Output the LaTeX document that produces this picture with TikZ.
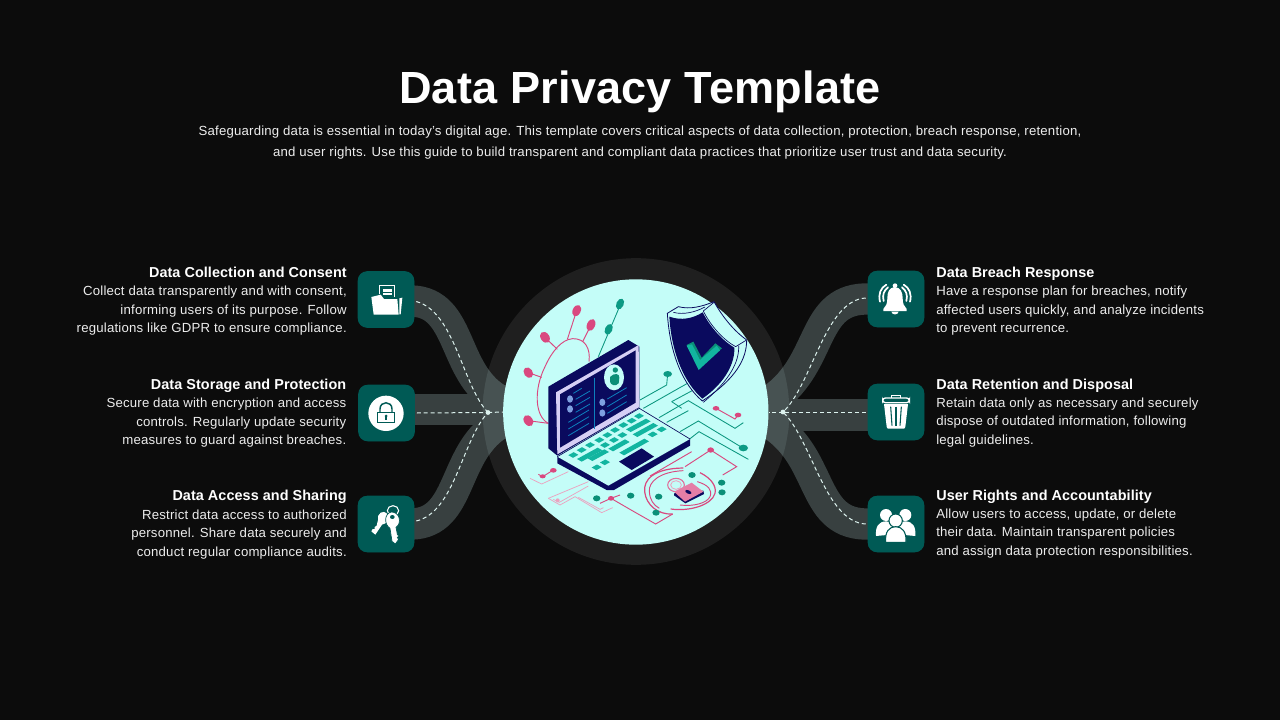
\documentclass[tikz,border=0pt]{standalone}
\usepackage{fontspec}
\setmainfont{Liberation Sans}[LetterSpace=1.5,BoldFeatures={LetterSpace=0.5}]
\newfontfamily\titlefont{Liberation Sans}[LetterSpace=0.5]
\usetikzlibrary{calc}
\definecolor{bgc}{HTML}{0C0C0C}
\definecolor{ringc}{HTML}{1F1F1F}
\definecolor{discc}{HTML}{C4FDF8}
\definecolor{bandc}{HTML}{384040}
\definecolor{bandl}{HTML}{475252}
\definecolor{boxc}{HTML}{005A55}
\definecolor{dashc}{HTML}{DDF3EF}
\definecolor{navyc}{HTML}{0A0A5E}
\definecolor{lavc}{HTML}{D6CFF5}
\definecolor{tealc}{HTML}{12B5A0}
\definecolor{gtealc}{HTML}{0A8F78}
\definecolor{pinkc}{HTML}{D9487F}
\definecolor{lpinkc}{HTML}{EBA3C0}
\definecolor{textc}{HTML}{EDEDED}
\definecolor{blobc}{HTML}{7E9FE0}
\tikzset{
 iconbox/.style={fill=boxc,rounded corners=7pt,minimum width=42pt,minimum height=42pt,inner sep=0pt},
 band/.style={line width=23.5pt,line cap=butt},
 flow/.style={draw=dashc,line width=.75pt,dash pattern=on 3pt off 2.2pt},
 hubdot/.style={circle,fill=dashc,inner sep=0pt,minimum size=3.6pt},
 headl/.style={font=\fontsize{10.8}{13}\selectfont\bfseries,text=white,inner sep=0pt,anchor=base east},
 headr/.style={font=\fontsize{10.8}{13}\selectfont\bfseries,text=white,inner sep=0pt,anchor=base west},
 bodyl/.style={font=\fontsize{9.9}{13.9}\selectfont,text=textc,inner sep=0pt,anchor=north east,align=right},
 bodyr/.style={font=\fontsize{9.9}{13.9}\selectfont,text=textc,inner sep=0pt,anchor=north west,align=left},
 wire/.style={draw=gtealc!80!tealc,line width=.65pt},
 pwire/.style={draw=pinkc,line width=.7pt},
 lwire/.style={draw=lpinkc,line width=.55pt},
 scr/.style={draw=tealc!70!blue,line width=.6pt},
}
\newcommand{\lk}[4]{\fill[tealc] (#1-7,#2-4) -- (#1+7,#2+4) -- (#3+7,#4+4) -- (#3-7,#4-4) -- cycle;}
\newcommand{\skey}[2]{\lk{#1-8}{#2+4.5}{#1+8}{#2-4.5}}
\begin{document}
\begin{tikzpicture}[x=.75pt,y=-.75pt]
\useasboundingbox (0,0) rectangle (1280,720);
\fill[bgc] (0,0) rectangle (1280,720);

% title
\node[font=\titlefont\fontsize{33.8}{40}\selectfont\bfseries,text=white,inner sep=0pt,anchor=base] (title) at (640,104) {Data Privacy Template};
\node[font=\fontsize{9.9}{15.75}\selectfont,text=textc,inner sep=0pt,anchor=north,align=center] (subtitle) at (640,125.2)
 {Safeguarding data is essential in today's digital age. This template covers critical aspects of data collection, protection, breach response, retention,\\and user rights. Use this guide to build transparent and compliant data practices that prioritize user trust and data security.};

% ring
\node[circle,fill=ringc,minimum size=230pt,inner sep=0pt] (ring) at (636,411.5) {};

% boxes
\node[iconbox] (box1) at (386,299.5) {};
\node[iconbox] (box2) at (386.5,413) {};
\node[iconbox] (box3) at (386,524) {};
\node[iconbox] (box4) at (896,299) {};
\node[iconbox] (box5) at (896,412) {};
\node[iconbox] (box6) at (896,524) {};
\coordinate (hubL) at (488,412.5);
\coordinate (hubR) at (783,412);
\coordinate (endL) at (530,412);
\coordinate (endR) at (742,412);

% bands
\newcommand{\bandset}{%
 \draw[band] ($(box1.east)+(-2,1.5)$) .. controls (462,303) and (452,372) .. (497,399) -- (endL);
 \draw[band] ($(box3.east)+(-2,0)$) .. controls (462,522) and (452,455) .. (497,425) -- (endL);
 \draw[band] ($(box2.east)+(-2,-3.5)$) -- (500,409.5);
 \draw[band] ($(box4.west)+(2,0)$) .. controls (810,297) and (825,362) .. (773,399) -- (endR);
 \draw[band] ($(box6.west)+(2,0)$) .. controls (810,526) and (825,460) .. (773,425) -- (endR);
 \draw[band] ($(box5.west)+(2,3)$) -- (770,415);
}
\begin{scope}[draw=bandc]\bandset\end{scope}
\begin{scope}
 \clip (636,411.5) circle[radius=115pt];
 \begin{scope}[draw=bandl]\bandset\end{scope}
\end{scope}

% boxes on top of bands
\fill[boxc,rounded corners=7pt] (box1.south west) rectangle (box1.north east);
\fill[boxc,rounded corners=7pt] (box2.south west) rectangle (box2.north east);
\fill[boxc,rounded corners=7pt] (box3.south west) rectangle (box3.north east);
\fill[boxc,rounded corners=7pt] (box4.south west) rectangle (box4.north east);
\fill[boxc,rounded corners=7pt] (box5.south west) rectangle (box5.north east);
\fill[boxc,rounded corners=7pt] (box6.south west) rectangle (box6.north east);

% disc
\node[circle,fill=discc,minimum size=199pt,inner sep=0pt] (disc) at (635.8,412) {};

% connectors
\draw[flow] ($(box1.east)+(2,2)$) .. controls (455,312) and (462,385) .. (hubL);
\draw[flow] ($(box2.east)+(2,0)$) -- (hubL);
\draw[flow] ($(box3.east)+(2,-3)$) .. controls (455,512) and (462,440) .. (hubL);
\draw[flow] ($(box4.west)+(-2,-1)$) .. controls (825,300) and (812,385) .. (hubR);
\draw[flow] ($(box5.west)+(-2,0)$) -- (hubR);
\draw[flow] ($(box6.west)+(-2,0)$) .. controls (825,522) and (812,440) .. (hubR);
\draw[flow] (hubL) -- (disc.west);
\draw[flow] (hubR) -- (disc.east);
\node[hubdot] (hubLd) at (hubL) {};
\node[hubdot] (hubRd) at (hubR) {};

% left text
\node[headl] (h1) at (347,277) {Data Collection and Consent};
\node[bodyl] (b1) at (347,285.7) {Collect data transparently and with consent,\\informing users of its purpose. Follow\\regulations like GDPR to ensure compliance.};
\node[headl] (h2) at (346.5,389) {Data Storage and Protection};
\node[bodyl] (b2) at (346.5,397.7) {Secure data with encryption and access\\controls. Regularly update security\\measures to guard against breaches.};
\node[headl] (h3) at (347,500) {Data Access and Sharing};
\node[bodyl] (b3) at (347,509.2) {Restrict data access to authorized\\personnel. Share data securely and\\conduct regular compliance audits.};
% right text
\node[headr] (h4) at (936,277) {Data Breach Response};
\node[bodyr] (b4) at (936,285.8) {Have a response plan for breaches, notify\\affected users quickly, and analyze incidents\\to prevent recurrence.};
\node[headr] (h5) at (936,389) {Data Retention and Disposal};
\node[bodyr] (b5) at (936,397.6) {Retain data only as necessary and securely\\dispose of outdated information, following\\legal guidelines.};
\node[headr] (h6) at (936,500) {User Rights and Accountability};
\node[bodyr] (b6) at (936,508.3) {Allow users to access, update, or delete\\their data. Maintain transparent policies\\and assign data protection responsibilities.};

% ---------- illustration (units: 1/3 px, origin 480,250)
\begin{scope}[shift={(480,250)},x=.25pt,y=-.25pt]
 % virus outline
 \draw[pwire] (205,520) .. controls (165,500) and (160,420) .. (195,350) .. controls (215,305) and (245,268) .. (278,266) .. controls (315,265) and (332,295) .. (327,335);
 \draw[pwire] (290,182) -- (262,268); \draw[pwire] (333,225) -- (308,275);
 \draw[pwire] (195,262) -- (232,298); \draw[pwire] (145,368) -- (185,382); \draw[pwire] (145,512) -- (205,520);
 \fill[pinkc,rotate around={65:(290,182)}] (290,182) ellipse[x radius=18,y radius=12];
 \fill[pinkc,rotate around={65:(333,225)}] (333,225) ellipse[x radius=19,y radius=12];
 \fill[pinkc,rotate around={-55:(195,262)}] (195,262) ellipse[x radius=18,y radius=13];
 \fill[pinkc,rotate around={-55:(145,368)}] (145,368) ellipse[x radius=17,y radius=13];
 \fill[pinkc,rotate around={-55:(145,512)}] (145,512) ellipse[x radius=18,y radius=13];
 % teal sprig
 \draw[wire] (422,162) -- (355,320);
 \fill[gtealc!70!tealc,rotate around={65:(420,162)}] (420,162) ellipse[x radius=17,y radius=11];
 \fill[gtealc!70!tealc,rotate around={65:(386,238)}] (386,238) ellipse[x radius=17,y radius=11];
 % teal circuit
 \draw[wire] (480,450) -- (560,405) -- (563,372);
 \fill[gtealc!70!tealc] (563,372) ellipse[x radius=13,y radius=9];
 \draw[wire] (490,475) -- (640,390);
 \draw[wire] (575,455) -- (640,420);
 \draw[wire] (575,455) -- (605,475);
 \draw[wire] (537,503) -- (625,452) -- (765,535) -- (790,518);
 \draw[wire] (560,517) -- (625,482);
 \draw[wire] (600,545) -- (655,513) -- (790,595);
 \draw[wire] (625,570) -- (657,545) -- (805,628);
 \fill[gtealc!70!tealc] (790,594) ellipse[x radius=14,y radius=10];
 % pink top right
 \draw[pwire] (708,475) -- (765,507) -- (775,495);
 \fill[pinkc] (708,475) ellipse[x radius=10,y radius=7];
 \fill[pinkc] (774,495) ellipse[x radius=10,y radius=7];
 % shield (zoom-6 coords + 480,135)
 \begin{scope}[shift={(480,135)}]
  \fill[discc] (82,55) -- (115,35) .. controls (150,44) and (185,35) .. (222,20) .. controls (250,70) and (285,110) .. (320,135) .. controls (320,190) and (290,250) .. (187,318) .. controls (130,270) and (90,180) .. (82,55) -- cycle;
  \draw[navyc,line width=.6pt] (82,55) -- (115,35) .. controls (150,44) and (185,35) .. (222,20) .. controls (250,70) and (285,110) .. (320,135) .. controls (320,190) and (290,250) .. (187,318) .. controls (130,270) and (90,180) .. (82,55) -- cycle;
  \draw[navyc,line width=.5pt] (190,48) -- (222,22) (287,155) -- (318,136) (190,48) .. controls (210,90) and (250,135) .. (287,155);
  \fill[navyc] (88,65) .. controls (125,78) and (160,70) .. (188,52) .. controls (210,95) and (245,135) .. (283,158) .. controls (285,200) and (260,260) .. (187,311) .. controls (135,265) and (95,180) .. (88,65) -- cycle;
  \draw[navyc,line width=.5pt] (100,52) .. controls (130,60) and (165,52) .. (195,36);
  \draw[navyc,line width=.5pt] (296,152) .. controls (298,200) and (270,255) .. (190,322);
  \fill[gtealc] (140,150) -- (160,140) -- (185,188) -- (226,145) -- (246,160) -- (182,210) -- cycle;
  \fill[tealc] (140,152) -- (156,148) -- (180,195) -- (230,152) -- (240,166) -- (176,225) -- cycle;
 \end{scope}
 % laptop (zoom-5 coords + 180,255)
 \begin{scope}[shift={(180,255)}]
  \fill[navyc] (25,155) -- (265,15) -- (298,35) -- (298,218) -- (52,362) -- (25,340) -- cycle;
  \fill[lavc] (48,172) -- (296,30) -- (298,216) -- (52,358) -- cycle;
  \fill[navyc] (60,178) -- (287,46) -- (287,203) -- (60,338) -- cycle;
  \fill[navyc] (52,365) -- (52,385) -- (200,465) -- (222,465) -- (450,332) -- (450,312) -- cycle;
  \fill[discc] (52,365) -- (298,220) -- (450,312) -- (205,452) -- cycle;
  \draw[navyc,line width=.5pt] (52,365) -- (298,220) -- (450,312);
  \fill[navyc] (237,380) -- (305,340) -- (342,365) -- (275,405) -- cycle;
  \lk{118}{376}{180}{342} \lk{150}{374}{200}{347}
  \lk{212}{345}{262}{317} \lk{245}{357}{320}{315}
  \lk{265}{287}{325}{255} \lk{285}{302}{347}{268}
  \skey{100}{360}\skey{125}{345}\skey{150}{330}\skey{178}{315}\skey{202}{300}\skey{225}{285}\skey{250}{270}\skey{275}{257}\skey{297}{243}
  \skey{170}{397}\skey{195}{382}\skey{195}{330}\skey{222}{315}\skey{247}{300}\skey{365}{283}\skey{338}{298}
  % screen
  \draw[scr] (163,128) -- (163,282);
  \fill[blobc] (90,192) ellipse[x radius=9,y radius=11];
  \fill[blobc] (90,222) ellipse[x radius=9,y radius=11];
  \fill[blobc] (187,202) ellipse[x radius=9,y radius=11];
  \fill[blobc] (187,234) ellipse[x radius=9,y radius=11];
  \draw[scr] (100,175) -- (125,160); \draw[scr] (107,193) -- (150,168); \draw[scr] (107,212) -- (150,187);
  \draw[scr] (107,232) -- (150,207); \draw[scr] (85,262) -- (147,225); \draw[scr] (85,282) -- (147,245); \draw[scr] (85,302) -- (147,265);
  \draw[scr] (202,192) -- (260,158); \draw[scr] (202,215) -- (260,180); \draw[scr] (202,235) -- (260,200);
  \fill[discc] (222,127) ellipse[x radius=30,y radius=39];
  \fill[gtealc] (226,105) circle[radius=8];
  \fill[gtealc] (210,126) .. controls (222,112) and (240,116) .. (238,128) -- (236,145) .. controls (226,156) and (212,150) .. (210,140) -- cycle;
 \end{scope}
 % lower art (zoom-7 coords + 120,570)
 \begin{scope}[shift={(120,570)}]
  \draw[lwire] (30,115) -- (65,132) -- (145,95);
  \draw[lwire] (85,175) -- (205,125);
  \draw[lwire] (85,175) -- (120,195) -- (165,170) -- (245,218) -- (278,203);
  \draw[lwire] (100,178) -- (118,187) -- (205,138);
  \draw[lwire] (175,172) -- (240,208) -- (250,203);
  \fill[lpinkc] (113,181) circle[radius=6];
  \draw[pwire] (55,103) -- (68,110) -- (100,90);
  \fill[pinkc] (68,109) ellipse[x radius=9,y radius=6];
  \fill[pinkc] (100,91) ellipse[x radius=10,y radius=7];
  \draw[pwire] (240,190) -- (273,175) -- (328,207) -- (407,252) -- (458,222);
  \draw[pwire] (273,175) -- (300,165);
  \fill[pinkc] (273,175) ellipse[x radius=9,y radius=7];
  \draw[pwire] (495,80) -- (572,30) -- (650,80) -- (608,105);
  \draw[pwire] (390,108) -- (515,35);
  \fill[pinkc] (572,30) ellipse[x radius=10,y radius=8];
  \draw[pwire,line width=.9pt] (490,84) .. controls (400,85) and (370,120) .. (374,155) .. controls (378,195) and (415,225) .. (458,222);
  \draw[pwire] (490,92) .. controls (420,95) and (385,125) .. (388,155) .. controls (390,180) and (400,195) .. (418,205);
  \draw[pwire,line width=.9pt] (540,98) .. controls (575,115) and (590,140) .. (585,160) .. controls (575,195) and (510,215) .. (452,207);
  \draw[pwire] (532,125) .. controls (565,135) and (578,150) .. (570,170) .. controls (560,190) and (520,200) .. (480,195);
  \draw[draw=pinkc!60!lpinkc,line width=.8pt] (468,135) ellipse[x radius=25,y radius=20];
  \draw[draw=lpinkc,line width=.6pt] (468,135) ellipse[x radius=16,y radius=13];
  \fill[navyc] (462,160) -- (462,166) -- (496,190) -- (552,162) -- (550,152) -- cycle;
  \fill[lpinkc!60!pinkc] (462,155) -- (515,128) -- (550,155) -- (495,185) -- cycle;
  \fill[navyc,rotate around={-25:(505,156)}] (505,156) ellipse[x radius=10,y radius=5];
  \foreach \p/\a in {230/175,332/167,408/218,416/170,516/105,605/128,606/157}{
    \fill[gtealc] (\p,\a) ellipse[x radius=11,y radius=9];}
 \end{scope}
\end{scope}

% ---------- icons
% folder
\begin{scope}[shift={(358,271)},x=.25pt,y=-.25pt]
 \draw[white,line width=1.1pt] (64,70) -- (64,43) -- (110,43) -- (110,78);
 \fill[white] (74,54) rectangle (103,62); \fill[white] (74,66) rectangle (103,73);
 \fill[white] (40,78) -- (68,71) -- (78,84) -- (118,84) -- (122,131) -- (47,131) -- cycle;
 \fill[white] (124,82) -- (133,80) -- (128,130) -- (124,130) -- cycle;
\end{scope}
% padlock (zoom-2 coords)
\begin{scope}[shift={(340,260)},x=.25pt,y=-.25pt]
 \fill[white] (138,460) circle[radius=53];
 \draw[boxc,line width=1.1pt] (112,457) rectangle (164,487);
 \draw[boxc,line width=1.1pt] (120,457) -- (120,447) .. controls (120,422) and (156,422) .. (156,447) -- (156,457);
 \fill[boxc] (138,468) circle[radius=4.5]; \fill[boxc] (136,468) rectangle (140,480);
\end{scope}
% keys
\begin{scope}[shift={(358,496)},x=.25pt,y=-.25pt]
 \draw[white,line width=.8pt] (105,44) ellipse[x radius=17,y radius=15];
 \fill[white] (68,50) .. controls (82,42) and (94,56) .. (90,70) .. controls (86,80) and (80,86) .. (72,86) -- (52,116) -- (40,106) -- (44,99) -- (50,99) -- (50,93) -- (56,89) -- (60,72) .. controls (58,64) and (60,55) .. (68,50) -- cycle;
 \fill[white,draw=boxc,line width=.5pt] (100,48) .. controls (126,48) and (132,82) .. (114,94) -- (118,115) -- (122,120) -- (118,125) -- (122,130) -- (112,144) -- (102,136) -- (96,97) .. controls (78,85) and (78,53) .. (100,48) -- cycle;
 \fill[boxc] (103,63) ellipse[x radius=7,y radius=6];
\end{scope}
% bell
\begin{scope}[shift={(868,271)},x=.25pt,y=-.25pt]
 \fill[white] (81,44) circle[radius=7];
 \fill[white] (80,48) .. controls (62,50) and (58,65) .. (58,82) .. controls (58,98) and (54,106) .. (46,114) -- (46,120) -- (116,120) -- (116,114) .. controls (108,106) and (104,98) .. (104,82) .. controls (104,65) and (99,50) .. (80,48) -- cycle;
 \fill[white] (70,122) .. controls (72,133) and (90,133) .. (92,122) -- cycle;
 \draw[white,line width=1.3pt,line cap=round] (47,90) .. controls (42,72) and (48,58) .. (60,49);
 \draw[white,line width=1.3pt,line cap=round] (36,92) .. controls (30,70) and (38,50) .. (55,41);
 \draw[white,line width=1.3pt,line cap=round] (115,90) .. controls (120,72) and (114,58) .. (102,49);
 \draw[white,line width=1.3pt,line cap=round] (126,92) .. controls (132,70) and (124,50) .. (107,41);
\end{scope}
% trash + people (zoom-3 coords)
\begin{scope}[shift={(760,260)},x=.25pt,y=-.25pt]
 \draw[white,line width=.9pt] (395,415) -- (395,407) -- (421,407) -- (421,415);
 \draw[white,line width=1pt,rounded corners=2pt,fill=boxc] (368,414) rectangle (448,428);
 \fill[white] (372,432) -- (444,432) -- (436,500) .. controls (436,504) and (434,506) .. (430,506) -- (386,506) .. controls (382,506) and (380,504) .. (380,500) -- cycle;
 \draw[boxc,line width=.8pt] (392,440) -- (396,497); \draw[boxc,line width=.8pt] (408,440) -- (408,497); \draw[boxc,line width=.8pt] (424,440) -- (420,497);
 % people
 \fill[white] (378,765) circle[radius=18];
 \fill[white] (436,765) circle[radius=18];
 \fill[white] (348,828) .. controls (346,800) and (355,785) .. (378,784) .. controls (395,784) and (400,795) .. (402,800) -- (380,825) -- cycle;
 \fill[white] (466,828) .. controls (468,800) and (459,785) .. (436,784) .. controls (419,784) and (414,795) .. (412,800) -- (434,825) -- cycle;
 \fill[white,draw=boxc,line width=.8pt] (407,782) circle[radius=20];
 \fill[white,draw=boxc,line width=.8pt] (377,847) .. controls (374,815) and (388,800) .. (407,800) .. controls (426,800) and (440,815) .. (438,847) -- cycle;
\end{scope}
\end{tikzpicture}
\end{document}
